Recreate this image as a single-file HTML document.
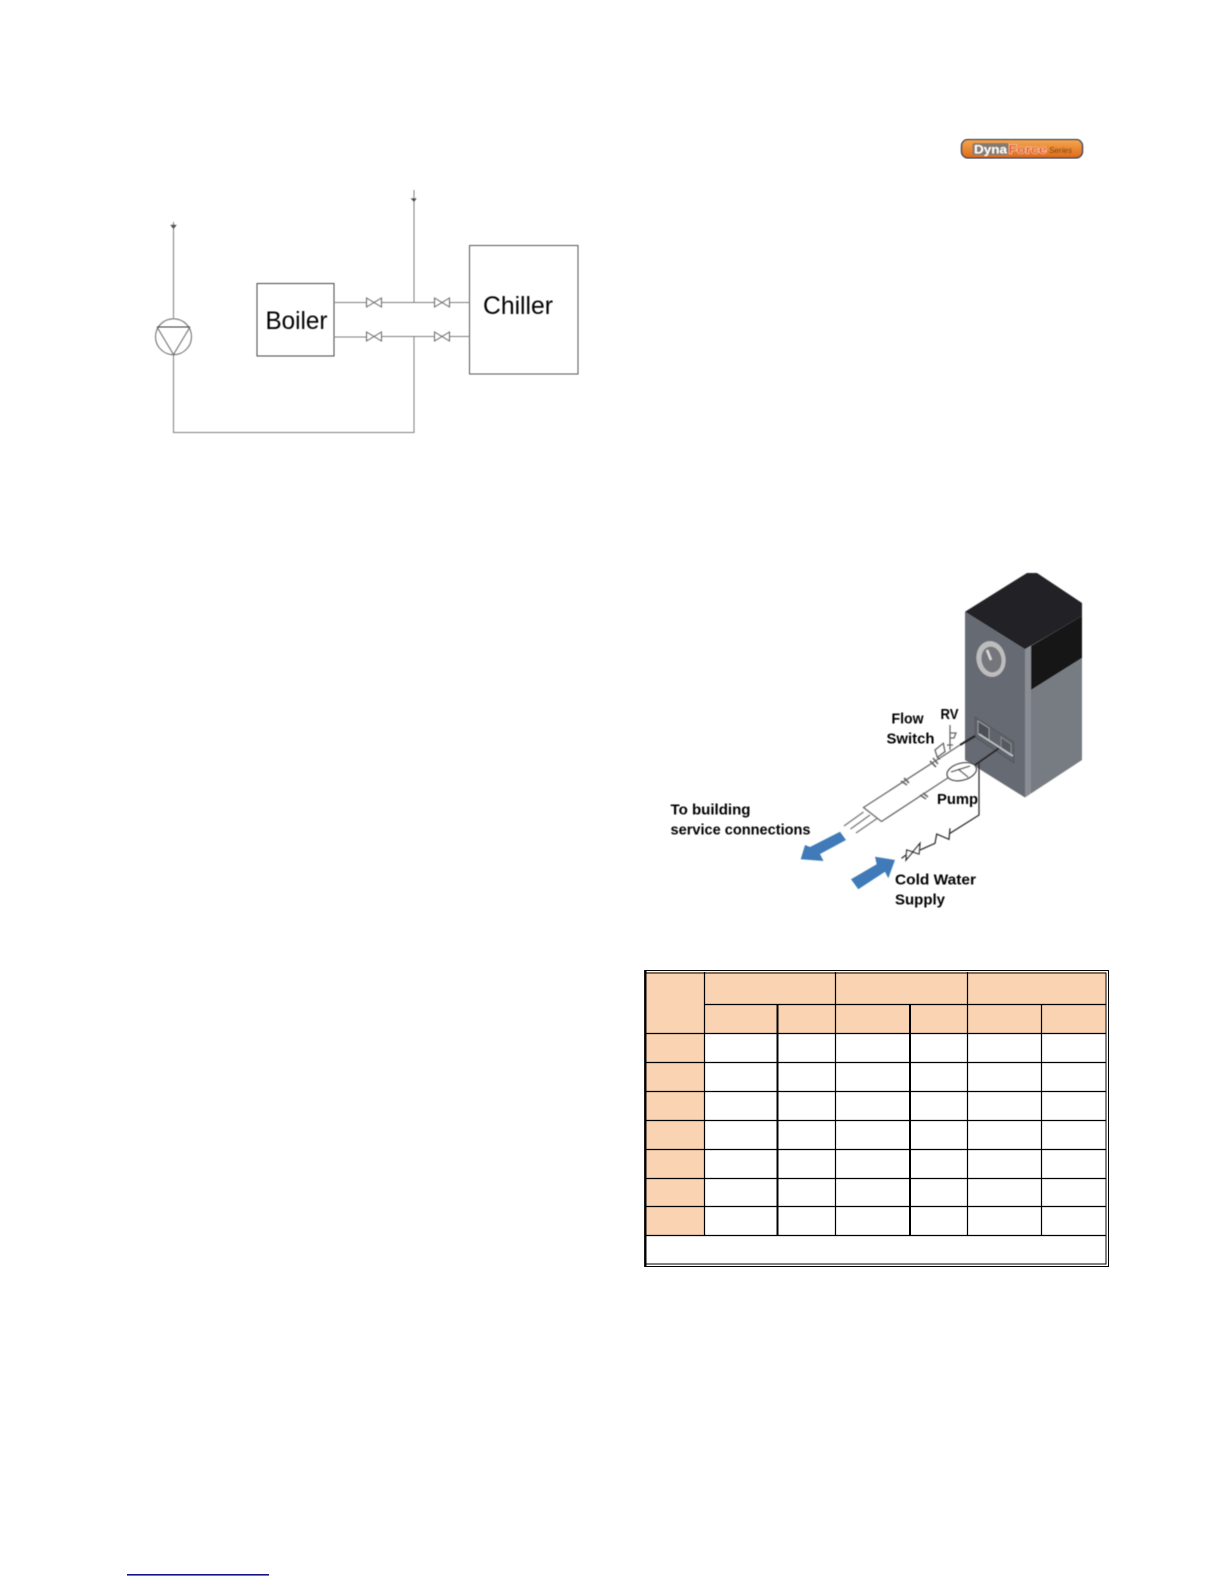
<!DOCTYPE html>
<html><head><meta charset="utf-8"><style>
html,body{margin:0;padding:0;background:#fff;width:1224px;height:1584px;overflow:hidden}
svg{display:block}
text{font-family:"Liberation Sans",sans-serif}
</style></head><body>
<svg width="1224" height="1584" viewBox="0 0 1224 1584" xmlns="http://www.w3.org/2000/svg">
<defs>
<filter id="b" x="-5%" y="-5%" width="110%" height="110%"><feGaussianBlur stdDeviation="0.4"/></filter>
<linearGradient id="og" x1="0" y1="0" x2="0" y2="1"><stop offset="0" stop-color="#f4a850"/><stop offset="1" stop-color="#dd6a18"/></linearGradient>
</defs>

<!-- logo -->
<g filter="url(#b)">
<rect x="961.5" y="139.5" width="121" height="18.5" rx="6.5" fill="url(#og)" stroke="#1f3347" stroke-width="1.3"/>
<rect x="972.5" y="143" width="36" height="12" rx="2" fill="#86796d"/>
<text x="974" y="153.3" font-size="11.5" font-weight="bold" fill="#fff" textLength="33" lengthAdjust="spacingAndGlyphs">Dyna</text>
<text x="1008.5" y="153.3" font-size="11.5" font-weight="bold" fill="#e9541c" stroke="#fbe6cf" stroke-width="0.8" paint-order="stroke" textLength="38" lengthAdjust="spacingAndGlyphs">Force</text>
<text x="1049" y="153" font-size="8.5" font-style="italic" fill="#6b3c10" textLength="23" lengthAdjust="spacingAndGlyphs">Series</text>
</g>

<!-- schematic -->
<g fill="none" stroke="#7e7e7e" stroke-width="1" filter="url(#b)">
<rect x="257" y="283.5" width="77" height="72.5" stroke="#444"/>
<rect x="469.5" y="245.5" width="108.5" height="128.5" stroke="#555"/>
<path d="M334 302.5H366.5M381.5 302.5H434.5M449.5 302.5H469.5"/>
<path d="M334 337H366.5M381.5 336.5H434.5M449.5 336.5H469.5"/>
<path d="M414 190V302.5M414 336.5V432.5H173.5V355M173.5 222V318"/>
<path d="M171.5 225.5L175.5 225.5L173.5 228Z" stroke="#444" stroke-width="1.2"/>
<path d="M412 199L415.5 199L414 201Z" stroke="#444" stroke-width="1.2"/>
<circle cx="173.5" cy="336.7" r="18" stroke="#666"/>
<path d="M157 327H190" stroke="#333"/>
<path d="M157 327L173.5 354.5L190 327" stroke="#666"/>
<path d="M366.5 298V307L381.5 298V307Z M434.5 298V307L449.5 298V307Z M366.5 332V341L381.5 332V341Z M434.5 332V341L449.5 332V341Z" stroke="#666"/>
</g>
<text x="265.5" y="329" font-size="25" fill="#000" textLength="62" lengthAdjust="spacingAndGlyphs" filter="url(#b)">Boiler</text>
<text x="483" y="314" font-size="25" fill="#000" textLength="70" lengthAdjust="spacingAndGlyphs" filter="url(#b)">Chiller</text>

<!-- cabinet -->
<g filter="url(#b)">
<polygon points="965,611.7 1025,649.3 1025,797.5 965,760" fill="#666a73"/>
<polygon points="1025,649.3 1031,646 1031,793.5 1025,797.5" fill="#8a8d93"/>
<polygon points="1031,690 1082,658 1082,760 1031,793.5" fill="#777b83"/>
<polygon points="1031,646 1082,616 1082,658 1031,690" fill="#121214"/>
<polygon points="965,611.7 1027,573 1037,573 1082,603 1082,616 1025,649.3" fill="#232428"/>
<ellipse cx="991" cy="659" rx="14.5" ry="18" fill="#bdbdbd" transform="rotate(-10 991 659)"/>
<ellipse cx="991.5" cy="659.5" rx="10" ry="13" fill="#74767b" transform="rotate(-10 991.5 659.5)"/>
<path d="M987 650L991 660" stroke="#d8d8d8" stroke-width="2.5" fill="none"/>
<polygon points="975,717 1014,742 1014,763 975,737" fill="#5f636b" stroke="#53565d" stroke-width="0.8"/>
<polygon points="978,721 989,728 989,741 978,734" fill="#4c4f56" stroke="#a5a7ab" stroke-width="0.8"/>
<polygon points="1001,737 1011,744 1011,756 1001,749" fill="#565a61" stroke="#8f9297" stroke-width="0.8"/>
<path d="M979 734L1013 756" stroke="#c3c5c8" stroke-width="1.6"/>
</g>

<!-- piping -->
<g fill="none" stroke="#6a6a6a" stroke-width="1.3" filter="url(#b)">
<path d="M960 745L863.5 807.5L881.5 821.5L950 776.5"/>
<path d="M863.5 812L844 826M870 815L850.5 829M877 818.5L856 833" stroke="#777"/>
<path d="M960 745L975 736" stroke="#222" stroke-width="2"/>
<path d="M975 765L998.5 748.5" stroke="#222" stroke-width="1.5"/>
<path d="M979 762V815L950 833.3M950 828.3L949 839.3L936.7 834L935 843.3L920 850" stroke="#333"/>
<path d="M920 843.3L919 854L906.7 850L906 860Z M906 855L901.5 858.3" stroke="#333" fill="#fff"/>
<ellipse cx="961.7" cy="771.7" rx="15" ry="8.5" transform="rotate(-15 961.7 771.7)" stroke="#444" fill="#fff"/>
<path d="M951 772L970 766M958 769L968 777" stroke="#444"/>
<path d="M935 750L943.3 743.3L945 751.7L937.3 757.3Z M937.3 757.3L940 759.5" stroke="#666"/>
<path d="M930 761L936 767M933 758L938 764M901 781L907 785M904 778L909 783M920 795L926 799M923 793L928 797" stroke="#666" stroke-width="1.6"/>
<path d="M950 725V750M950 733L956 733L954 738L950 738M947 745H953" stroke="#666"/>
</g>

<!-- blue arrows -->
<g fill="#3f7ab8" filter="url(#b)">
<polygon points="840,831.7 846,840 820,854 823.5,861 800.7,859.3 805,845 810,847"/>
<polygon points="851,879.3 876.7,864.3 875,856.7 895,860 888.3,878.3 885,871.7 858.3,889.3"/>
</g>

<!-- labels -->
<g font-size="15" font-weight="bold" fill="#000" filter="url(#b)">
<text x="670.5" y="814.5" textLength="80" lengthAdjust="spacingAndGlyphs">To building</text>
<text x="670.5" y="834.5" textLength="140" lengthAdjust="spacingAndGlyphs">service connections</text>
<text x="891.5" y="723.5" textLength="32" lengthAdjust="spacingAndGlyphs">Flow</text>
<text x="886.5" y="743.5" textLength="48" lengthAdjust="spacingAndGlyphs">Switch</text>
<text x="940.5" y="719" textLength="18" lengthAdjust="spacingAndGlyphs">RV</text>
<text x="937" y="804" textLength="41" lengthAdjust="spacingAndGlyphs">Pump</text>
<text x="895" y="884.5" textLength="81" lengthAdjust="spacingAndGlyphs">Cold Water</text>
<text x="895" y="904.5" textLength="50" lengthAdjust="spacingAndGlyphs">Supply</text>
</g>

<!-- table -->
<g>
<rect x="646" y="972" width="460" height="62" fill="#fad3b2"/>
<rect x="646" y="1034" width="58.5" height="201" fill="#fad3b2"/>
<g stroke="#000" fill="none">
<path d="M645 970.5H1108.5V1266.5H645" stroke-width="1"/>
<path d="M645 973H1106V1264H645" stroke-width="1"/>
<path d="M645.3 970V1267" stroke-width="2.4"/>
<path d="M704.5 972V1235M835.5 972V1235M967.5 972V1235M1041.5 1004V1235" stroke-width="1.2"/>
<path d="M777.5 1004V1235M910 1004V1235" stroke-width="2"/>
<path d="M704 1004.5H1106" stroke-width="1.2"/>
<path d="M646 1033.5H1106M646 1062.5H1106M646 1091.5H1106M646 1120.5H1106M646 1149.5H1106M646 1178.5H1106M646 1206.5H1106M646 1235.5H1106" stroke-width="1.2"/>
</g>
</g>

<!-- footnote rule -->
<rect x="127" y="1574" width="142" height="1.6" fill="#15158a"/>
</svg>
</body></html>
